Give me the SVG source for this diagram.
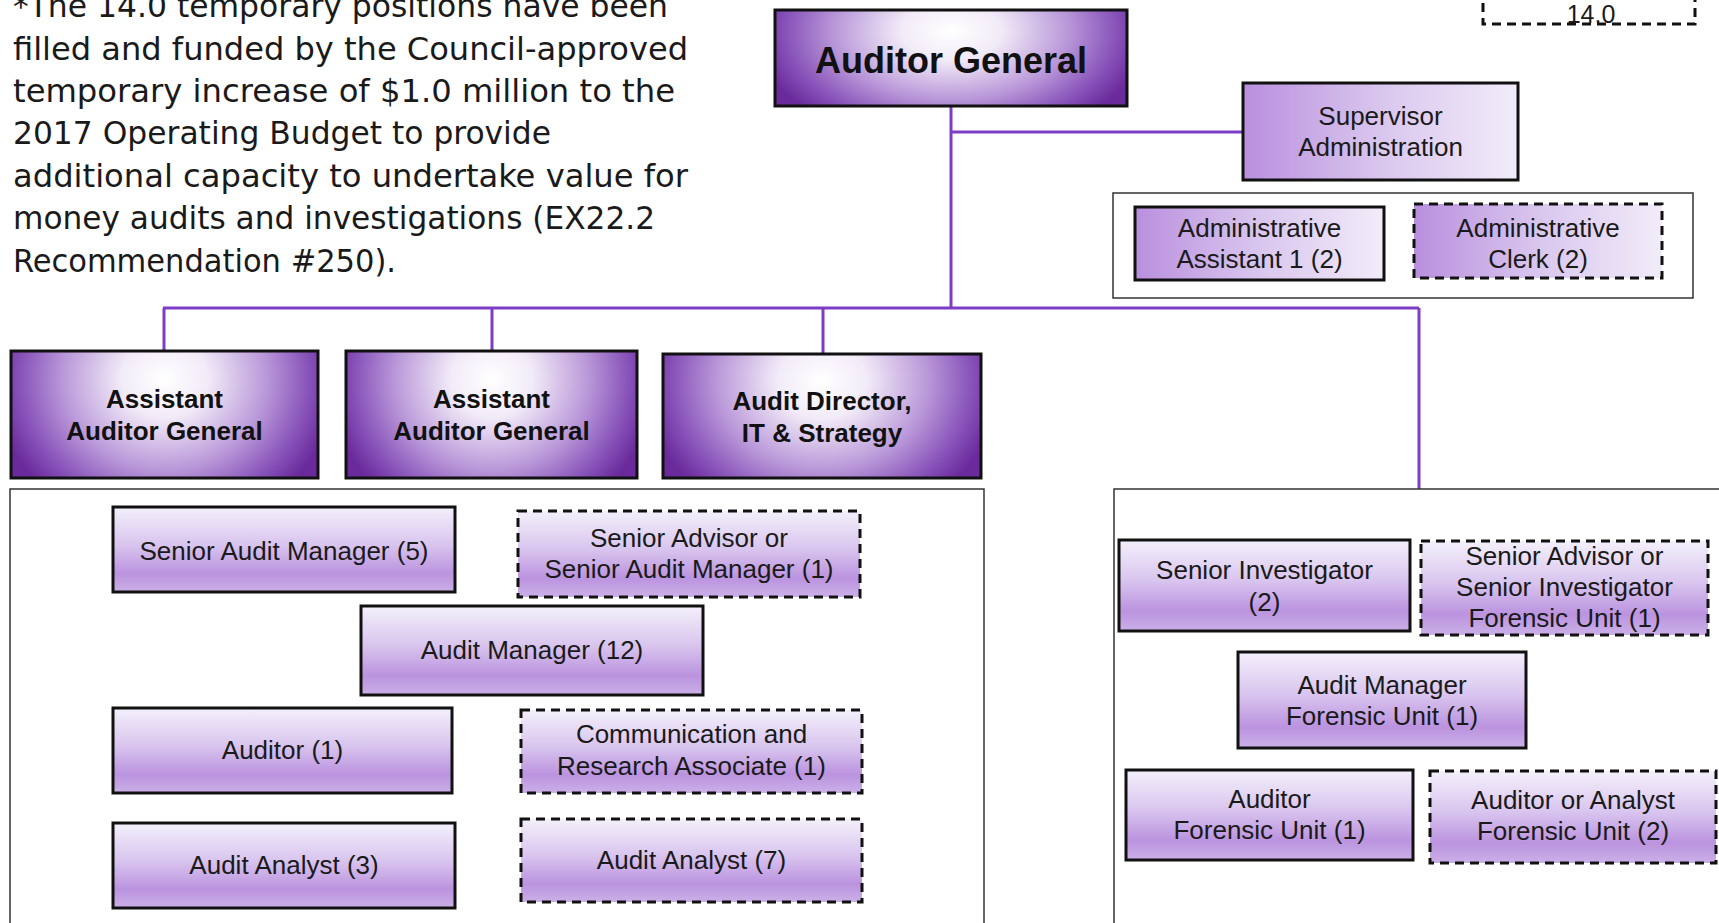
<svg xmlns="http://www.w3.org/2000/svg" width="1719" height="923" viewBox="0 0 1719 923">
<defs>
  <radialGradient id="gTop" cx="0.5" cy="0.22" r="1" gradientTransform="translate(0.5 0.22) scale(0.56 1.2) translate(-0.5 -0.22)">
    <stop offset="0" stop-color="#ffffff"/>
    <stop offset="0.25" stop-color="#f2ebf8"/>
    <stop offset="0.6" stop-color="#b896d8"/>
    <stop offset="0.85" stop-color="#8650b8"/>
    <stop offset="1" stop-color="#6a2a9b"/>
  </radialGradient>
  <linearGradient id="gH" x1="0" y1="0" x2="1" y2="0">
    <stop offset="0" stop-color="#b98fde"/>
    <stop offset="0.5" stop-color="#d9c6ee"/>
    <stop offset="1" stop-color="#f2ecf9"/>
  </linearGradient>
  <linearGradient id="gV" x1="0" y1="0" x2="0" y2="1">
    <stop offset="0" stop-color="#f4f0fb"/>
    <stop offset="0.45" stop-color="#d8c4ee"/>
    <stop offset="0.78" stop-color="#bb93df"/>
    <stop offset="1" stop-color="#cbb0e7"/>
  </linearGradient>
</defs>
<style>
  .t { font-family: "Liberation Sans", Arial, sans-serif; font-size: 26px; fill: #1a1a1a; text-anchor: middle; }
  .b { font-weight: bold; fill: #111; }
  .note { font-family: "DejaVu Sans Condensed", "DejaVu Sans", sans-serif; font-size: 32px; fill: #1a1a1a; }
  .top { fill: url(#gTop); stroke: #111; stroke-width: 3; }
  .h { fill: url(#gH); stroke: #111; stroke-width: 3; }
  .v { fill: url(#gV); stroke: #111; stroke-width: 3; }
  .dash { stroke-dasharray: 9 6; }
  .cont { fill: none; stroke: #333; stroke-width: 1.5; }
  .conn { fill: none; stroke: #7d3dc4; stroke-width: 3; }
</style>

<g id="note">
  <text class="note" x="13" y="17" textLength="655" lengthAdjust="spacingAndGlyphs">*The 14.0 temporary positions have been</text>
  <text class="note" x="13" y="60" textLength="675" lengthAdjust="spacingAndGlyphs">filled and funded by the Council-approved</text>
  <text class="note" x="13" y="102" textLength="662" lengthAdjust="spacingAndGlyphs">temporary increase of $1.0 million to the</text>
  <text class="note" x="13" y="144" textLength="538" lengthAdjust="spacingAndGlyphs">2017 Operating Budget to provide</text>
  <text class="note" x="13" y="187" textLength="675" lengthAdjust="spacingAndGlyphs">additional capacity to undertake value for</text>
  <text class="note" x="13" y="229" textLength="642" lengthAdjust="spacingAndGlyphs">money audits and investigations (EX22.2</text>
  <text class="note" x="13" y="272" textLength="383" lengthAdjust="spacingAndGlyphs">Recommendation #250).</text>
</g>

<g id="connectors">
  <path class="conn" d="M951 106 V308"/>
  <path class="conn" d="M951 132 H1243"/>
  <path class="conn" d="M163 308 H1419"/>
  <path class="conn" d="M164 308 V351"/>
  <path class="conn" d="M492 308 V351"/>
  <path class="conn" d="M823 308 V354"/>
  <path class="conn" d="M1419 308 V489"/>
</g>

<g id="total-box">
  <rect class="dash" x="1483" y="-20" width="212" height="44" fill="none" stroke="#111" stroke-width="3"/>
  <text class="t" x="1591" y="23" style="font-size:25px">14.0</text>
</g>

<g id="auditor-general">
  <rect class="top" x="775" y="10" width="352" height="96"/>
  <text class="t b" x="951" y="73" style="font-size:36px">Auditor General</text>
</g>

<g id="supervisor-admin">
  <rect class="h" x="1243" y="83" width="275" height="97"/>
  <text class="t" x="1380.5" y="125">Supervisor</text>
  <text class="t" x="1380.5" y="156">Administration</text>
</g>

<g id="admin-container">
  <rect class="cont" x="1113" y="193" width="580" height="105"/>
</g>

<g id="admin-assistant">
  <rect class="h" x="1135" y="207" width="249" height="73"/>
  <text class="t" x="1259.5" y="237">Administrative</text>
  <text class="t" x="1259.5" y="268">Assistant 1 (2)</text>
</g>

<g id="admin-clerk">
  <rect class="h dash" x="1414" y="204" width="248" height="74"/>
  <text class="t" x="1538" y="237">Administrative</text>
  <text class="t" x="1538" y="268">Clerk (2)</text>
</g>

<g id="aag-1">
  <rect class="top" x="11" y="351" width="307" height="127"/>
  <text class="t b" x="164.5" y="408">Assistant</text>
  <text class="t b" x="164.5" y="440">Auditor General</text>
</g>

<g id="aag-2">
  <rect class="top" x="346" y="351" width="291" height="127"/>
  <text class="t b" x="491.5" y="408">Assistant</text>
  <text class="t b" x="491.5" y="440">Auditor General</text>
</g>

<g id="audit-director">
  <rect class="top" x="663" y="354" width="318" height="124"/>
  <text class="t b" x="822" y="410">Audit Director,</text>
  <text class="t b" x="822" y="442">IT &amp; Strategy</text>
</g>

<g id="audit-container">
  <rect class="cont" x="10" y="489" width="974" height="460"/>
</g>

<g id="senior-audit-manager">
  <rect class="v" x="113" y="507" width="342" height="85"/>
  <text class="t" x="284" y="560">Senior Audit Manager (5)</text>
</g>

<g id="senior-advisor-sam">
  <rect class="v dash" x="518" y="511" width="342" height="86"/>
  <text class="t" x="689" y="547">Senior Advisor or</text>
  <text class="t" x="689" y="578">Senior Audit Manager (1)</text>
</g>

<g id="audit-manager">
  <rect class="v" x="361" y="606" width="342" height="89"/>
  <text class="t" x="532" y="659">Audit Manager (12)</text>
</g>

<g id="auditor">
  <rect class="v" x="113" y="708" width="339" height="85"/>
  <text class="t" x="282.5" y="759">Auditor (1)</text>
</g>

<g id="comm-research">
  <rect class="v dash" x="521" y="710" width="341" height="83"/>
  <text class="t" x="691.5" y="743">Communication and</text>
  <text class="t" x="691.5" y="775">Research Associate (1)</text>
</g>

<g id="audit-analyst-3">
  <rect class="v" x="113" y="823" width="342" height="85"/>
  <text class="t" x="284" y="874">Audit Analyst (3)</text>
</g>

<g id="audit-analyst-7">
  <rect class="v dash" x="521" y="819" width="341" height="83"/>
  <text class="t" x="691.5" y="869">Audit Analyst (7)</text>
</g>

<g id="forensic-container">
  <rect class="cont" x="1114" y="489" width="620" height="460"/>
</g>

<g id="senior-investigator">
  <rect class="v" x="1119" y="540" width="291" height="91"/>
  <text class="t" x="1264.5" y="579">Senior Investigator</text>
  <text class="t" x="1264.5" y="611">(2)</text>
</g>

<g id="senior-advisor-si">
  <rect class="v dash" x="1421" y="541" width="287" height="94"/>
  <text class="t" x="1564.5" y="565">Senior Advisor or</text>
  <text class="t" x="1564.5" y="596">Senior Investigator</text>
  <text class="t" x="1564.5" y="627">Forensic Unit (1)</text>
</g>

<g id="audit-manager-fu">
  <rect class="v" x="1238" y="652" width="288" height="96"/>
  <text class="t" x="1382" y="694">Audit Manager</text>
  <text class="t" x="1382" y="725">Forensic Unit (1)</text>
</g>

<g id="auditor-fu">
  <rect class="v" x="1126" y="770" width="287" height="90"/>
  <text class="t" x="1269.5" y="808">Auditor</text>
  <text class="t" x="1269.5" y="839">Forensic Unit (1)</text>
</g>

<g id="auditor-analyst-fu">
  <rect class="v dash" x="1430" y="771" width="286" height="92"/>
  <text class="t" x="1573" y="809">Auditor or Analyst</text>
  <text class="t" x="1573" y="840">Forensic Unit (2)</text>
</g>
</svg>
